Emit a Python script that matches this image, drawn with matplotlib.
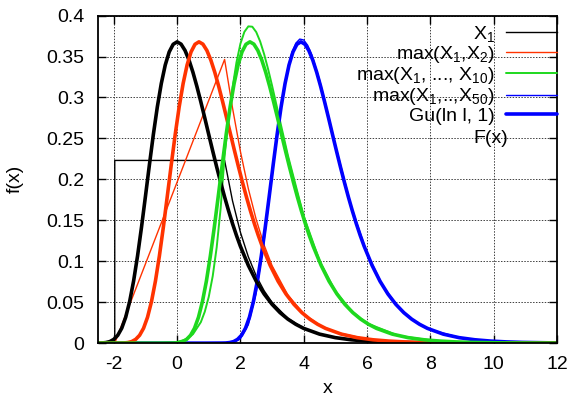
import matplotlib
matplotlib.use("Agg")
import matplotlib.pyplot as plt

plt.rcParams['font.family'] = ['Liberation Sans', 'DejaVu Sans']
plt.rcParams['mathtext.fontset'] = 'custom'
plt.rcParams['mathtext.rm'] = 'Liberation Sans'
plt.rcParams['mathtext.it'] = 'Liberation Sans:italic'
plt.rcParams['mathtext.default'] = 'regular'
plt.rcParams['font.size'] = 14

# thin curves: densities of X1 and of the maxima
x_x1 = [-2.5, -1.97, -1.97, 1.5, 1.75, 2.0, 2.25, 2.5, 2.75, 3.0, 3.5, 4.0, 4.5, 5.0, 6.0, 7.0, 8.0, 12.0]
y_x1 = [0, 0, 0.2231, 0.2231, 0.1738, 0.1353, 0.1054, 0.0821, 0.0639, 0.0498, 0.0302, 0.0183, 0.0111,
        0.0067, 0.0025, 0.0009, 0.0003, 0]

x_max2 = [-2.5, -1.97, 1.5, 1.75, 2.0, 2.25, 2.5, 2.75, 3.0, 3.5, 4.0, 4.5, 5.0, 6.0, 7.0, 8.0, 10.0, 12.0]
y_max2 = [0, 0, 0.3464, 0.2872, 0.2340, 0.1886, 0.1507, 0.1196, 0.0946, 0.0586, 0.0360, 0.0220, 0.0134,
          0.0049, 0.0018, 0.0007, 0.0001, 0]

x_max10 = [-2.5, -0.5, 0.0, 0.25, 0.5, 0.75, 0.875, 1.0, 1.125, 1.25, 1.375, 1.5, 1.625, 1.75, 1.875,
           2.0, 2.125, 2.25, 2.375, 2.5, 2.625, 2.75, 2.875, 3.0, 3.25, 3.5, 4.0, 4.5, 5.0, 5.5, 6.0,
           7.0, 8.0, 9.0, 10.0, 12.0]
y_max10 = [0, 0.0001, 0.0014, 0.0042, 0.0109, 0.0257, 0.0385, 0.0566, 0.0819, 0.1169, 0.1646, 0.2287,
           0.2735, 0.3118, 0.3428, 0.3657, 0.3801, 0.3868, 0.3864, 0.3798, 0.3682, 0.3527, 0.3345,
           0.3144, 0.2716, 0.2292, 0.1550, 0.1005, 0.0634, 0.0394, 0.0242, 0.0090, 0.0034, 0.0012,
           0.0005, 0.0001]

x_max50 = [-2.5, 1.5, 1.75, 2.0, 2.25, 2.5, 2.75, 3.0, 3.25, 3.5, 3.625, 3.75, 3.875, 4.0, 4.125, 4.25,
           4.5, 4.75, 5.0, 5.5, 6.0, 6.5, 7.0, 7.5, 8.0, 9.0, 10.0, 11.0, 12.0]
y_max50 = [0, 0, 0.0008, 0.0055, 0.0225, 0.0617, 0.1258, 0.2038, 0.2793, 0.3360, 0.3547, 0.3663, 0.3713,
           0.3702, 0.3637, 0.3527, 0.3213, 0.2826, 0.2419, 0.1672, 0.1098, 0.0698, 0.0436, 0.0269,
           0.0165, 0.0061, 0.0023, 0.0008, 0.0003]

# thick curves: Gumbel densities Gu(ln l, 1) for l = 1, 2, 10, 50 (same shape, shifted)
y_gu = [0, 0.0001, 0.0002, 0.0007, 0.0019, 0.0046, 0.0096, 0.0182, 0.0316, 0.0507, 0.0758, 0.1065,
        0.1416, 0.1794, 0.2179, 0.2549, 0.2885, 0.3170, 0.3396, 0.3556, 0.3649, 0.3679, 0.3651,
        0.3574, 0.3457, 0.3307, 0.3134, 0.2945, 0.2748, 0.2546, 0.2346, 0.2151, 0.1964, 0.1785,
        0.1617, 0.1460, 0.1315, 0.1182, 0.0949, 0.0756, 0.0600, 0.0474, 0.0373, 0.0293, 0.0230,
        0.0180, 0.0110, 0.0067, 0.0041, 0.0025, 0.0015, 0.0009, 0.0006, 0.0003, 0.0001, 0.0, 0.0]
x_gu1 = [-3.0, -2.5, -2.375, -2.25, -2.125, -2.0, -1.875, -1.75, -1.625, -1.5, -1.375, -1.25, -1.125,
         -1.0, -0.875, -0.75, -0.625, -0.5, -0.375, -0.25, -0.125, 0.0, 0.125, 0.25, 0.375, 0.5, 0.625,
         0.75, 0.875, 1.0, 1.125, 1.25, 1.375, 1.5, 1.625, 1.75, 1.875, 2.0, 2.25, 2.5, 2.75, 3.0, 3.25,
         3.5, 3.75, 4.0, 4.5, 5.0, 5.5, 6.0, 6.5, 7.0, 7.5, 8.0, 9.0, 10.0, 12.0]
x_gu2 = [-2.31, -1.81, -1.685, -1.56, -1.435, -1.31, -1.185, -1.06, -0.935, -0.81, -0.685, -0.56,
         -0.435, -0.31, -0.185, -0.06, 0.065, 0.19, 0.315, 0.44, 0.565, 0.69, 0.815, 0.94, 1.065, 1.19,
         1.315, 1.44, 1.565, 1.69, 1.815, 1.94, 2.065, 2.19, 2.315, 2.44, 2.565, 2.69, 2.94, 3.19,
         3.44, 3.69, 3.94, 4.19, 4.44, 4.69, 5.19, 5.69, 6.19, 6.69, 7.19, 7.69, 8.19, 8.69, 9.69,
         10.69, 12.69]
x_gu10 = [-0.70, -0.20, -0.075, 0.05, 0.175, 0.30, 0.425, 0.55, 0.675, 0.80, 0.925, 1.05, 1.175, 1.30,
          1.425, 1.55, 1.675, 1.80, 1.925, 2.05, 2.175, 2.30, 2.425, 2.55, 2.675, 2.80, 2.925, 3.05,
          3.175, 3.30, 3.425, 3.55, 3.675, 3.80, 3.925, 4.05, 4.175, 4.30, 4.55, 4.80, 5.05, 5.30,
          5.55, 5.80, 6.05, 6.30, 6.80, 7.30, 7.80, 8.30, 8.80, 9.30, 9.80, 10.30, 11.30, 12.30, 14.30]
x_gu50 = [0.91, 1.41, 1.535, 1.66, 1.785, 1.91, 2.035, 2.16, 2.285, 2.41, 2.535, 2.66, 2.785, 2.91,
          3.035, 3.16, 3.285, 3.41, 3.535, 3.66, 3.785, 3.91, 4.035, 4.16, 4.285, 4.41, 4.535, 4.66,
          4.785, 4.91, 5.035, 5.16, 5.285, 5.41, 5.535, 5.66, 5.785, 5.91, 6.16, 6.41, 6.66, 6.91,
          7.16, 7.41, 7.66, 7.91, 8.41, 8.91, 9.41, 9.91, 10.41, 10.91, 11.41, 11.91, 12.91, 13.91,
          15.91]

black = 'black'
red = '#ff3300'
green = '#1ed81e'
blue = '#0000ff'
thin = 1.0
thick = 2.6
kw = dict(solid_joinstyle='round', solid_capstyle='round')

fig = plt.figure(figsize=(5.73, 3.99), dpi=100)
ax = fig.add_axes([0.171, 0.14, 0.801, 0.821])

ax.plot(x_x1, y_x1, color=black, lw=thin, label='X$_1$')
ax.plot(x_max2, y_max2, color=red, lw=thin, label='max(X$_1$,X$_2$)', **kw)
ax.plot(x_max10, y_max10, color=green, lw=1.4, label='max(X$_1$, ..., X$_{10}$)', **kw)
ax.plot(x_max50, y_max50, color=blue, lw=thin, label='max(X$_1$,..,X$_{50}$)', **kw)
ax.plot([-2.5] + x_gu50, [0] + y_gu, color=blue, lw=thick, label='Gu(ln l, 1)', **kw)
ax.plot(x_gu1, y_gu, color=black, lw=thick, **kw)
ax.plot([-2.5] + x_gu2, [0] + y_gu, color=red, lw=thick, **kw)
ax.plot([-2.5] + x_gu10, [0] + y_gu, color=green, lw=thick, **kw)

ax.set_xlim(-2.5, 12)
ax.set_ylim(0, 0.4)
ax.set_xticks([-2, 0, 2, 4, 6, 8, 10, 12])
ax.set_xticklabels(['-2', '0', '2', '4', '6', '8', '10', '12'])
ax.set_yticks([0, 0.05, 0.1, 0.15, 0.2, 0.25, 0.3, 0.35, 0.4])
ax.set_yticklabels(['0', '0.05', '0.1', '0.15', '0.2', '0.25', '0.3', '0.35', '0.4'])
ax.tick_params(axis='both', direction='in', length=6, width=1.0, top=True, right=True)
ax.tick_params(axis='y', pad=10)
ax.tick_params(axis='x', pad=9)
ax.grid(True, color='0.25', linestyle=(0, (1.5, 1.5)), linewidth=0.7)
for s in ax.spines.values():
    s.set_linewidth(1.3)
ax.set_xlabel('x', labelpad=5)
ax.set_ylabel('f(x)', labelpad=16)

leg = ax.legend(loc='upper right', bbox_to_anchor=(1.0, 0.975), frameon=False, markerfirst=False,
                handlelength=2.6, handletextpad=0.6, labelspacing=0.01, borderaxespad=0, borderpad=0)
ax.text(0.856, 0.625, 'F(x)', transform=ax.transAxes, ha='center', va='center')

fig.savefig('out.png', dpi=100)
